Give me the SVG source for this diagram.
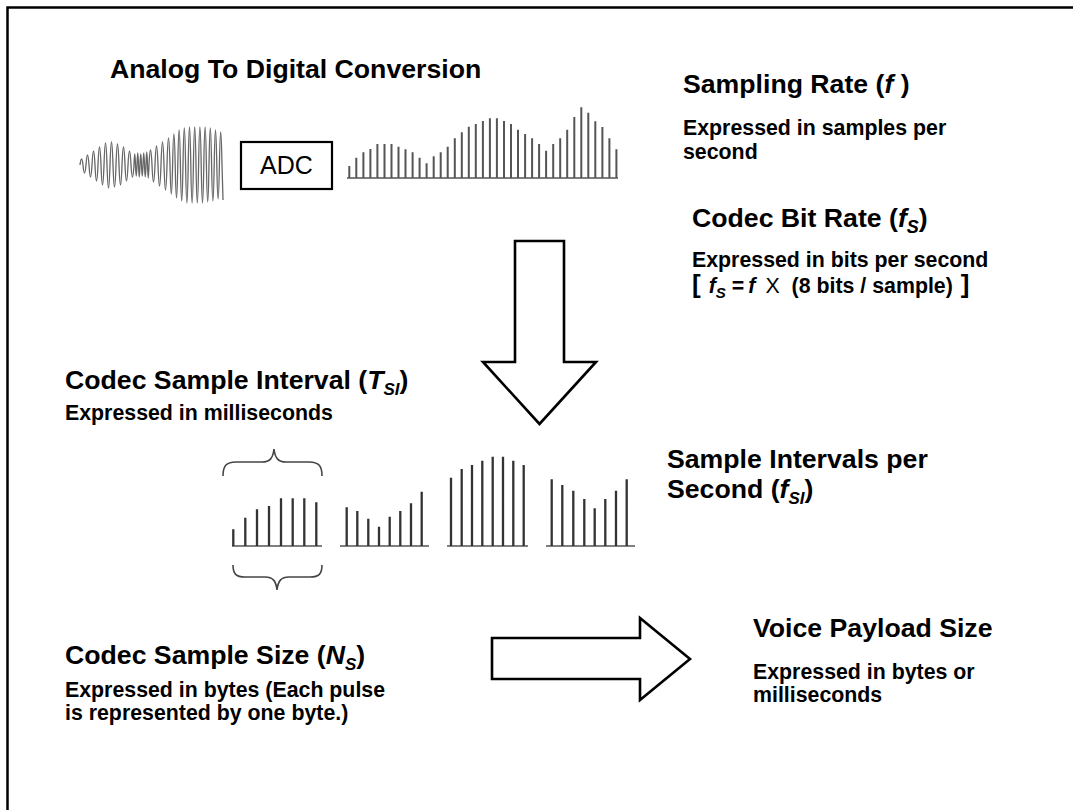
<svg xmlns="http://www.w3.org/2000/svg" width="1073" height="810" viewBox="0 0 1073 810">
<style>
.h{font-family:"Liberation Sans",Arial,sans-serif;font-weight:bold;font-size:26.67px;fill:#000}
.s{font-family:"Liberation Sans",Arial,sans-serif;font-weight:bold;font-size:21.33px;fill:#000}
.i{font-style:italic}
.bars{stroke:#555;stroke-width:2;fill:none}
.pulses{stroke:#333;stroke-width:2.3;fill:none}
.base{stroke:#555;stroke-width:1.5;fill:none}
.brace{stroke:#444;stroke-width:1.6;fill:none}
.arrow{fill:#fff;stroke:#000;stroke-width:2.6;stroke-linejoin:miter}
</style>
<rect width="1073" height="810" fill="#fff"/>
<path d="M7.5,812 V7.5 H1075" fill="none" stroke="#000" stroke-width="2.5"/>

<g id="title"><text class="h" x="110" y="78">Analog To Digital Conversion</text></g>

<g id="analog-wave">
<path fill="none" stroke="#666" stroke-width="1.3" d="M80,165 Q81.5,153 83,165 Q84.5,181 86,165 Q87.5,145 89,165 Q90.5,189 92,165 Q93.5,137 95,165 Q96.5,197 98,165 Q99.5,129 101,165 Q102.5,205 104,165 Q105.5,121 107,165 Q108.5,211 110,165 Q111.5,119 113,165 Q114.5,209 116,165 Q117.5,123 119,165 Q120.5,205 122,165 Q123.5,129 125,165 Q126.5,197 128,165 Q129.5,137 131,165 Q132.5,189 134,165 Q134.75,143 135.5,165 Q136.25,187 137,165 Q137.75,141 138.5,165 Q139.25,189 140,165 Q140.75,143 141.5,165 Q142.25,187 143,165 Q143.75,141 144.5,165 Q145.25,189 146,165 Q146.75,139 147.5,165 Q148.25,191 149,165 Q150.5,135 152,165 Q153.5,199 155,165 Q156.5,127 158,165 Q159.5,207 161,165 Q162.5,119 164,165 Q165.5,215 167,165 Q168.5,111 170,165 Q171.3,223 172.6,165 Q173.9,103 175.2,165 Q176.5,231 177.8,165 Q179.1,95 180.4,165 Q181.7,237 183,165 Q184.3,91 185.6,165 Q186.9,241 188.2,165 Q189.5,89 190.8,165 Q192.1,241 193.4,165 Q194.7,89 196,165 Q197.3,241 198.6,165 Q199.9,89 201.2,165 Q202.5,241 203.8,165 Q205.1,89 206.4,165 Q207.7,239 209,165 Q210.3,91 211.6,165 Q212.9,237 214.2,165 Q215.5,95 216.8,165 Q218.1,233 219.4,165 Q220.7,99 222,165 L223,200"/>
</g>

<g id="adc">
<rect x="241" y="142" width="91" height="47" fill="#fff" stroke="#000" stroke-width="2.2"/>
<text x="286.5" y="174" text-anchor="middle" font-family="Liberation Sans, Arial, sans-serif" font-size="25">ADC</text>
</g>

<g id="sampled-wave">
<path class="base" d="M347,178 H618"/>
<path class="bars" d="M349.3,178V166 M356.3,178V157.7 M363.4,178V152.3 M370.4,178V149 M377.4,178V144 M384.5,178V144 M391.5,178V144 M398.5,178V146.7 M405.5,178V149.3 M412.6,178V152.3 M419.6,178V157.7 M426.6,178V163.3 M433.7,178V156.3 M440.7,178V152.3 M447.7,178V146.7 M454.8,178V138.3 M461.8,178V132.3 M468.8,178V126.7 M475.8,178V124 M482.9,178V121 M489.9,178V118.3 M496.9,178V118.3 M504,178V121 M511,178V124 M518,178V129.7 M525.1,178V134 M532.1,178V138.3 M539.1,178V144 M546.1,178V150.7 M553.2,178V144 M560.2,178V138.3 M567.2,178V129.7 M574.3,178V117 M581.3,178V107.3 M588.3,178V112.7 M595.3,178V121.3 M602.4,178V127 M609.4,178V138.3 M616.4,178V149.3"/>
</g>

<g id="sampling-rate">
<text class="h" x="683" y="93">Sampling Rate (<tspan class="i">f</tspan> )</text>
<text class="s" x="683" y="135">Expressed in samples per</text>
<text class="s" x="683" y="159">second</text>
</g>

<g id="codec-bit-rate">
<text class="h" x="692" y="227">Codec Bit Rate (<tspan class="i">f</tspan><tspan class="i" font-size="18" dy="6">S</tspan><tspan dy="-6">)</tspan></text>
<text class="s" x="692" y="267">Expressed in bits per second</text>
<text class="s" x="692" y="293"><tspan font-size="26">[</tspan><tspan class="i" dx="8">f</tspan><tspan class="i" font-size="15" dy="5">S</tspan><tspan dy="-5" dx="6">=</tspan><tspan class="i" dx="4">f</tspan><tspan dx="10" font-weight="normal">X</tspan><tspan dx="12">(8 bits / sample)</tspan><tspan dx="8" font-size="26">]</tspan></text>
</g>

<g id="connectors">
<polygon id="down-arrow" class="arrow" points="515,241 564,241 564,362 596,362 539.5,424 483,362 515,362"/>
<polygon id="right-arrow" class="arrow" points="492,638 640,638 640,618 690,659 640,700 640,679 492,679"/>
</g>

<g id="sample-interval">
<text class="h" x="65" y="389">Codec Sample Interval (<tspan class="i">T</tspan><tspan class="i" font-size="17" dy="6">SI</tspan><tspan dy="-6">)</tspan></text>
<text class="s" x="65" y="420">Expressed in milliseconds</text>
</g>

<g id="intervals-per-second">
<text class="h" x="667" y="468">Sample Intervals per</text>
<text class="h" x="667" y="498">Second (<tspan class="i">f</tspan><tspan class="i" font-size="17" dy="6">SI</tspan><tspan dy="-6">)</tspan></text>
</g>

<g id="pulse-groups">
<path class="brace" d="M223,476 C223,466 226,462 236,462 L262,462 C270,462 273,458 274,449 C275,458 278,462 286,462 L309,462 C319,462 322,466 322,476"/>
<path class="brace" d="M233,565 C233,574 236,577 245,577 L265,577 C273,577 276,581 277,590 C278,581 281,577 289,577 L310,577 C319,577 322,574 322,565"/>
<path class="base" d="M232,546 H322 M340,546 H429 M447,546 H528 M546,546 H635"/>
<path class="pulses" d="M233.3,546V529.3 M245.3,546V517.7 M257,546V509.3 M269,546V506 M281,546V498.3 M292.7,546V498.3 M304.3,546V498.3 M316.3,546V502.3 M346.7,546V507.3 M357.3,546V511 M368.3,546V518.7 M379,546V526.7 M389.7,546V516.7 M400.3,546V511 M411,546V503.3 M421.7,546V491.7 M451,546V477.7 M461.7,546V469 M472,546V465 M482.3,546V460.7 M492.7,546V456.7 M503,546V456.7 M513.3,546V460.7 M523.7,546V465 M551.7,546V479.3 M562.3,546V485 M573.3,546V490.7 M584.3,546V499 M594.7,546V508.3 M605.3,546V499 M616,546V490.7 M626.7,546V479.3"/>
</g>

<g id="sample-size">
<text class="h" x="65" y="664">Codec Sample Size (<tspan class="i">N</tspan><tspan class="i" font-size="17" dy="6">S</tspan><tspan dy="-6">)</tspan></text>
<text class="s" x="65" y="697">Expressed in bytes (Each pulse</text>
<text class="s" x="65" y="720">is represented by one byte.)</text>
</g>

<g id="voice-payload">
<text class="h" x="753" y="637">Voice Payload Size</text>
<text class="s" x="753" y="679">Expressed in bytes or</text>
<text class="s" x="753" y="702">milliseconds</text>
</g>
</svg>
